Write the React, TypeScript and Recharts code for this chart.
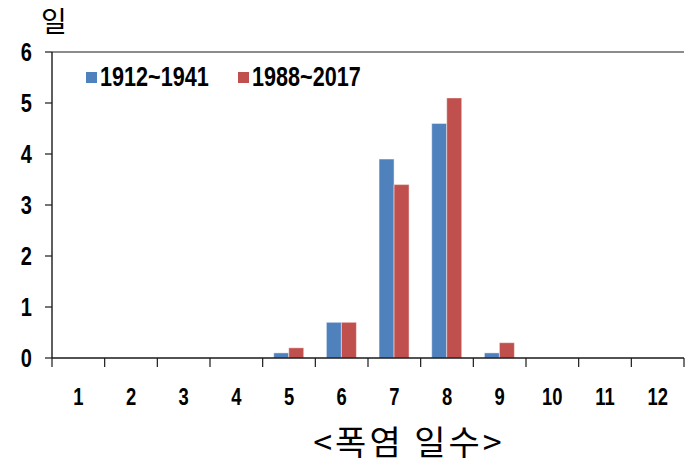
import React from "react"
import { BarChart, Bar, XAxis, YAxis, ReferenceLine } from "recharts"

const CATEGORIES = ["1", "2", "3", "4", "5", "6", "7", "8", "9", "10", "11", "12"]
const SERIES_1912_1941 = [0, 0, 0, 0, 0.1, 0.7, 3.9, 4.6, 0.1, 0, 0, 0]
const SERIES_1988_2017 = [0, 0, 0, 0, 0.2, 0.7, 3.4, 5.1, 0.3, 0, 0, 0]
const Y_TICKS = [0, 1, 2, 3, 4, 5, 6]
const SERIES_NAMES = ["1912~1941", "1988~2017"]
const COLORS = ["#4F81BD", "#C0504D"]

const W = 689
const H = 467
const Y_AXIS_W = 52
const M_RIGHT = 5
const BAND = (W - Y_AXIS_W - M_RIGHT) / CATEGORIES.length

// no Arial Narrow here, so squeeze Liberation Sans Bold instead
const SANS = "'Liberation Sans', Arial, sans-serif"
const SQUEEZE = 0.8
const KR = "'Noto Sans CJK KR', 'Noto Sans', sans-serif"
const AXIS = "#1a1a1a"

const data = CATEGORIES.map((day, i) => ({
  day,
  a: SERIES_1912_1941[i],
  b: SERIES_1988_2017[i],
}))

function NarrowText({ x, y, anchor, size, children }: any) {
  return (
    <text
      transform={`translate(${x},${y}) scale(${SQUEEZE},1)`}
      textAnchor={anchor}
      fontFamily={SANS}
      fontWeight="bold"
      fontSize={size}
      fill="#000"
    >
      {children}
    </text>
  )
}

function XTick(props: any) {
  const { x, y, index } = props
  const left = x - BAND / 2
  const right = x + BAND / 2
  return (
    <g>
      <line x1={left} x2={left} y1={y} y2={y + 9} stroke={AXIS} strokeWidth={1.2} />
      {index === CATEGORIES.length - 1 && (
        <line x1={right} x2={right} y1={y} y2={y + 9} stroke={AXIS} strokeWidth={1.2} />
      )}
      <NarrowText x={x} y={y + 47} anchor="middle" size={23}>
        {props.payload.value}
      </NarrowText>
    </g>
  )
}

function YTick(props: any) {
  const { x, y, payload } = props
  return (
    <NarrowText x={x + 1} y={y + 9} anchor="end" size={25}>
      {payload.value}
    </NarrowText>
  )
}

function LegendBox() {
  return (
    <div style={{ position: "absolute", left: 86, top: 63, width: 320, display: "flex", alignItems: "center" }}>
      {SERIES_NAMES.map((name, i) => (
        <div key={name} style={{ display: "flex", alignItems: "center", flex: "0 0 auto", width: i === 0 ? 152 : 150 }}>
          <span style={{ display: "inline-block", flex: "0 0 11px", width: 11, height: 11, background: COLORS[i], marginRight: 3 }} />
          <span
            style={{
              display: "inline-block",
              fontFamily: SANS,
              fontWeight: "bold",
              fontSize: 27,
              lineHeight: "28px",
              color: "#000",
              transform: `scaleX(${SQUEEZE})`,
              transformOrigin: "left center",
              whiteSpace: "nowrap",
            }}
          >
            {name}
          </span>
        </div>
      ))}
    </div>
  )
}

export default function App() {
  return (
    <div style={{ position: "absolute", left: 0, top: 0, width: W, height: H, background: "#fff", overflow: "hidden" }}>
      <div style={{ position: "absolute", left: 41, top: 4, fontFamily: KR, fontSize: 28, lineHeight: "32px", color: "#000" }}>
        일
      </div>
      <BarChart
        width={W}
        height={H}
        data={data}
        margin={{ top: 52, right: M_RIGHT, bottom: 69, left: 0 }}
        barCategoryGap="21%"
        barGap={0}
      >
        <XAxis
          dataKey="day"
          height={40}
          tickSize={0}
          tickMargin={0}
          tickLine={false}
          axisLine={{ stroke: AXIS, strokeWidth: 1.4 }}
          tick={(p: any) => <XTick {...p} />}
          interval={0}
        />
        <YAxis
          width={Y_AXIS_W}
          domain={[0, 6]}
          ticks={Y_TICKS}
          interval={0}
          tickSize={7}
          tickMargin={14}
          tickLine={{ stroke: AXIS, strokeWidth: 1.2 }}
          axisLine={{ stroke: AXIS, strokeWidth: 1.4 }}
          tick={(p: any) => <YTick {...p} />}
        />
        <YAxis
          yAxisId="right"
          orientation="right"
          width={0}
          domain={[0, 6]}
          tick={false}
          tickLine={false}
          axisLine={{ stroke: AXIS, strokeWidth: 1.2 }}
        />
        <ReferenceLine y={6} stroke={AXIS} strokeWidth={1.2} />
        <Bar dataKey="a" name={SERIES_NAMES[0]} fill={COLORS[0]} stroke="rgba(255,255,255,0.45)" strokeWidth={1} isAnimationActive={false} />
        <Bar dataKey="b" name={SERIES_NAMES[1]} fill={COLORS[1]} stroke="rgba(255,255,255,0.45)" strokeWidth={1} isAnimationActive={false} />
      </BarChart>
      <LegendBox />
      <div
        style={{
          position: "absolute",
          left: 209,
          width: 400,
          top: 420,
          textAlign: "center",
          fontFamily: KR,
          fontSize: 34,
          letterSpacing: 3,
          lineHeight: "42px",
          color: "#000",
          whiteSpace: "nowrap",
        }}
      >
        &lt;폭염 일수&gt;
      </div>
    </div>
  )
}
